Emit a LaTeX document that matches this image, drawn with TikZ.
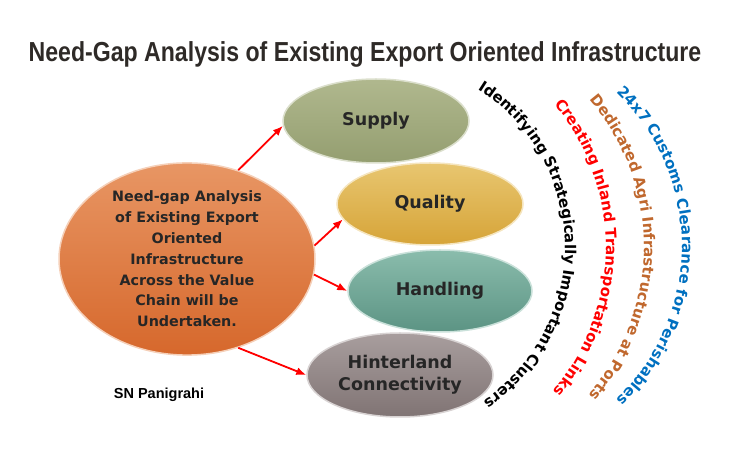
\documentclass[tikz,border=0pt]{standalone}
\usepackage{fontspec}
\usepackage{xcolor}
\usepackage{tikz}
\usetikzlibrary{shapes.geometric,arrows.meta,decorations.text}
\newfontfamily\titlefont[FakeStretch=0.84]{Liberation Sans}
\newfontfamily\labelfont{Liberation Sans}
\newfontfamily\boxfont{DejaVu Sans}
\definecolor{titlegray}{RGB}{46,42,39}
\definecolor{textgray}{RGB}{38,38,38}
\definecolor{mainTop}{RGB}{232,150,100}
\definecolor{mainBot}{RGB}{214,104,44}
\definecolor{supTop}{RGB}{176,184,142}
\definecolor{supBot}{RGB}{148,158,112}
\definecolor{qualTop}{RGB}{232,198,112}
\definecolor{qualBot}{RGB}{214,164,56}
\definecolor{handTop}{RGB}{138,188,172}
\definecolor{handBot}{RGB}{92,148,132}
\definecolor{hintTop}{RGB}{168,158,158}
\definecolor{hintBot}{RGB}{128,116,116}
\definecolor{arcRed}{RGB}{255,0,0}
\definecolor{arcBrown}{RGB}{192,104,46}
\definecolor{arcBlue}{RGB}{0,112,192}
\newcommand{\arcfont}{\boxfont\bfseries\fontsize{15}{17}\selectfont}
\tikzset{
  blob/.style={ellipse,inner sep=0pt,top color=#1Top,bottom color=#1Bot,
    draw=white!55!#1Top,line width=1.5pt,text=textgray,align=center,
    font=\boxfont\bfseries\fontsize{17.5}{22}\selectfont},
  link/.style={draw=arcRed,line width=1.8pt,-{Latex[length=10pt,width=8pt]}},
  arctext/.style={decorate,decoration={text along path,text align=fit to path,text color=#1}}
}

\begin{document}
\begin{tikzpicture}[x=1pt,y=1pt]
  \useasboundingbox (0,0) rectangle (745,455);
  \node[anchor=base,font=\titlefont\bfseries\fontsize{27.5}{30}\selectfont,text=titlegray] (title) at (365,393)
    {Need-Gap Analysis of Existing Export Oriented Infrastructure};

  % ellipses
  \node[blob=main,minimum width=256,minimum height=178,font=\boxfont\bfseries\fontsize{14.3}{20.8}\selectfont] (main) at (187,196)
    {Need-gap Analysis\\of Existing Export\\Oriented\\Infrastructure\\Across the Value\\Chain will be\\Undertaken.};
  \node[blob=sup,minimum width=186,minimum height=84] (supply) at (376,334) {Supply};
  \node[blob=qual,minimum width=186,minimum height=82] (quality) at (430,251) {Quality};
  \node[blob=hand,minimum width=184,minimum height=82] (handling) at (440,164) {Handling};
  \node[blob=hint,minimum width=186,minimum height=84] (hinter) at (400,80) {Hinterland\\Connectivity};

  \draw[link] (main.60) -- (supply.183);
  \draw[link] (main.6) -- (quality.190);
  \draw[link] (main.-7) -- (handling.180);
  \draw[link] (main.-60) -- (hinter.180);

  \node[font=\labelfont\bfseries\fontsize{14.5}{16}\selectfont] (author) at (159,60) {SN Panigrahi};

  % arched texts
  \coordinate (cBlack) at (379,208);
  \coordinate (cRed) at (382,208);
  \coordinate (cBrown) at (418,208);
  \coordinate (cBlue) at (469,209);
  \path[arctext=black,decoration={text={|\arcfont|Identifying Strategically Important Clusters}}]
    ([shift={(58:186)}]cBlack) arc[start angle=58,end angle=-55.6,radius=186];
  \path[arctext=arcRed,decoration={text={|\arcfont|Creating Inland Transportation Links}}]
    ([shift={(39.6:224)}]cRed) arc[start angle=39.6,end angle=-40.1,radius=224];
  \path[arctext=arcBrown,decoration={text={|\arcfont|Dedicated Agri Infrastructure at Ports}}]
    ([shift={(40.7:226)}]cBrown) arc[start angle=40.7,end angle=-40.8,radius=226];
  \path[arctext=arcBlue,decoration={text={|\arcfont|24x7 Customs Clearance for Perishables}}]
    ([shift={(46.2:213)}]cBlue) arc[start angle=46.2,end angle=-46.2,radius=213];
\end{tikzpicture}
\end{document}
